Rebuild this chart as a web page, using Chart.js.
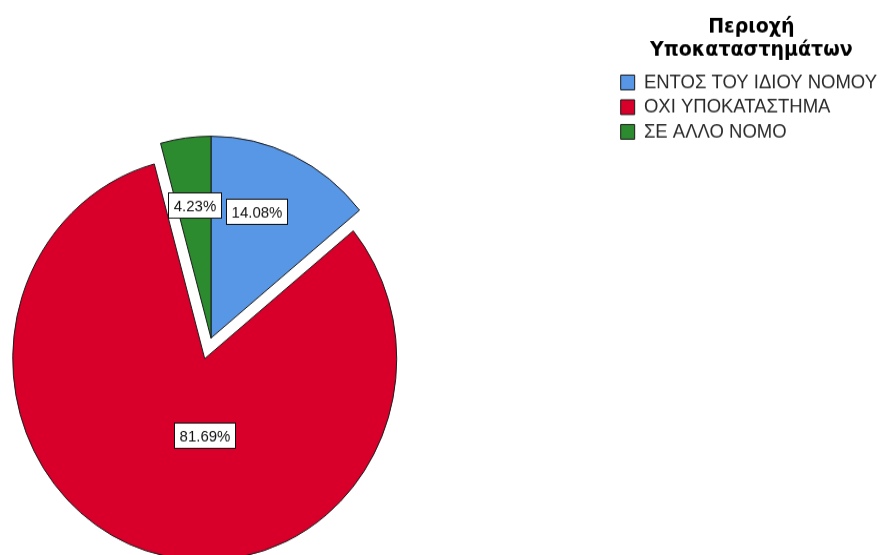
<!DOCTYPE html>
<html>
<head>
<meta charset="utf-8">
<script src="https://cdn.jsdelivr.net/npm/chart.js@4/dist/chart.umd.min.js"></script>
<style>
  html, body { margin: 0; padding: 0; background: #ffffff; }
  #frame { position: relative; width: 880px; height: 555px; overflow: hidden; }
  #wrap { position: absolute; left: 0; top: 0; width: 880px; height: 528px; transform-origin: 0 0; transform: scaleY(1.0511); }
  canvas { display: block; }
</style>
</head>
<body>
<div id="frame"><div id="wrap"><canvas id="c" width="880" height="528"></canvas></div></div>
<script>
// Branch location of the businesses (percent of cases)
const categories = ['ΕΝΤΟΣ ΤΟΥ ΙΔΙΟΥ ΝΟΜΟΥ', 'ΟΧΙ ΥΠΟΚΑΤΑΣΤΗΜΑ', 'ΣΕ ΑΛΛΟ ΝΟΜΟ'];
const percentages = [14.08, 81.69, 4.23];
const legendTitle = ['Περιοχή', 'Υποκαταστημάτων'];

const sliceColors = ['#5896e6', '#d8002a', '#2c8a2f'];
const FONT = '"Liberation Sans", Arial, Helvetica, sans-serif';

// Re-centres the plot area so the pie sits at a fixed point left of the legend,
// and nudges the legend towards the right edge.
const pieArea = {
  id: 'pieArea',
  afterLayout(chart, args, opts) {
    const a = chart.chartArea;
    a.left = 2 * opts.centerX - a.right;
    a.bottom = 2 * opts.centerY - a.top;
    a.width = a.right - a.left;
    a.height = a.bottom - a.top;
    const lg = chart.legend;
    if (lg && opts.legendShiftX) {
      lg.left += opts.legendShiftX;
      lg.right += opts.legendShiftX;
    }
  }
};

// Pulls chosen slices away from the centre along their mid angle.
const explodePlugin = {
  id: 'explode',
  beforeDatasetDraw(chart, args, opts) {
    const ctx = chart.ctx;
    args.meta.data.forEach((arc, i) => {
      const d = (opts.distance && opts.distance[i]) || 0;
      const mid = (arc.startAngle + arc.endAngle) / 2;
      ctx.save();
      ctx.translate(Math.cos(mid) * d, Math.sin(mid) * d);
      arc.draw(ctx, chart.chartArea);
      ctx.restore();
    });
    return false;
  }
};

// Boxed percentage labels inside the slices.
const boxedLabels = {
  id: 'boxedLabels',
  afterDatasetsDraw(chart, args, opts) {
    const ctx = chart.ctx;
    const meta = chart.getDatasetMeta(0);
    const explode = chart.options.plugins.explode.distance;
    const values = chart.data.datasets[0].data;
    ctx.save();
    ctx.font = opts.font;
    ctx.textAlign = 'center';
    ctx.textBaseline = 'middle';
    meta.data.forEach((arc, i) => {
      const mid = (arc.startAngle + arc.endAngle) / 2;
      const d = explode[i] || 0;
      const cx = arc.x + Math.cos(mid) * d;
      const cy = arc.y + Math.sin(mid) * d;
      const a = arc.startAngle + (arc.endAngle - arc.startAngle) * opts.angleFrac[i];
      const r = arc.outerRadius * opts.radiusFrac[i];
      const x = cx + Math.cos(a) * r;
      const y = cy + Math.sin(a) * r;
      const text = values[i].toFixed(2) + '%';
      const w = Math.round(ctx.measureText(text).width + opts.padX * 2);
      const h = opts.boxHeight;
      const bx = Math.round(x - w / 2) + 0.5;
      const by = Math.round(y - h / 2) + 0.5;
      ctx.fillStyle = '#ffffff';
      ctx.fillRect(bx, by, w, h);
      ctx.strokeStyle = '#111111';
      ctx.lineWidth = 1;
      ctx.strokeRect(bx, by, w, h);
      ctx.fillStyle = '#111111';
      ctx.fillText(text, bx + w / 2, by + h / 2 + 1);
    });
    ctx.restore();
  }
};

new Chart(document.getElementById('c'), {
  type: 'pie',
  data: {
    labels: categories,
    datasets: [{
      data: percentages,
      backgroundColor: sliceColors,
      borderColor: '#1b1b1b',
      borderWidth: 1,
      borderJoinStyle: 'miter'
    }]
  },
  options: {
    responsive: false,
    devicePixelRatio: 1,
    animation: false,
    events: [],
    radius: 192,
    layout: { padding: { left: 0, right: 0, top: 10, bottom: 0 } },
    plugins: {
      tooltip: { enabled: false },
      pieArea: { centerX: 211, centerY: 321.6, legendShiftX: 7 },
      explode: { distance: [0, 20.6, 0] },
      boxedLabels: {
        font: '15px ' + FONT,
        padX: 5,
        boxHeight: 24,
        angleFrac: [0.41, 0.44, 0.5],
        radiusFrac: [0.67, 0.38, 0.665]
      },
      legend: {
        position: 'right',
        align: 'start',
        title: {
          display: true,
          text: legendTitle,
          color: '#000000',
          font: { family: '"DejaVu Sans", ' + FONT, size: 19, weight: 'bold', lineHeight: '21.8px' },
          padding: { top: 7, bottom: 25.4 }
        },
        labels: {
          color: '#2a2a2a',
          font: { family: FONT, size: 18.5 },
          boxWidth: 14,
          boxHeight: 14,
          padding: 5
        }
      }
    }
  },
  plugins: [pieArea, explodePlugin, boxedLabels]
});
</script>
</body>
</html>
